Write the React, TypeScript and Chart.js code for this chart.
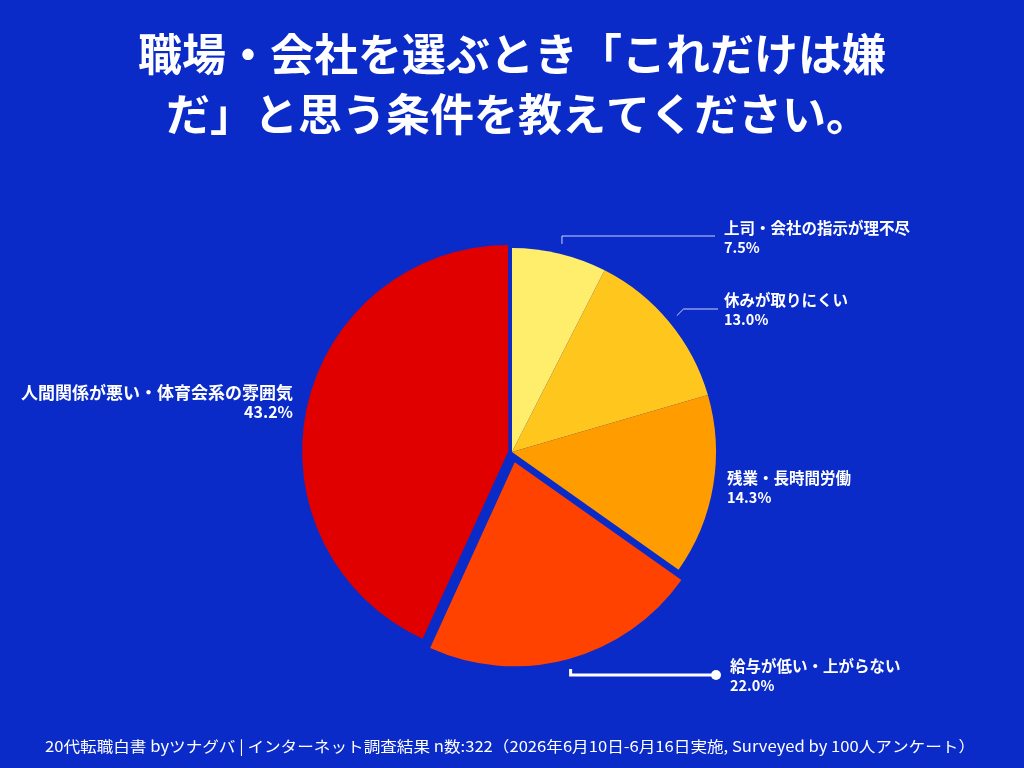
import React, { useEffect, useRef } from "react";
import { Chart, registerables } from "chart.js";

Chart.register(...registerables);

const TITLE_LINES = ["職場・会社を選ぶとき「これだけは嫌", "だ」と思う条件を教えてください。"];
const CATEGORIES = [
  "上司・会社の指示が理不尽",
  "休みが取りにくい",
  "残業・長時間労働",
  "給与が低い・上がらない",
  "人間関係が悪い・体育会系の雰囲気",
];
const VALUES = [7.5, 13.0, 14.3, 22.0, 43.2];
const COLORS = ["#FFEE6B", "#FFC71E", "#FF9C00", "#FF4200", "#E00000"];
const OFFSETS = [0, 0, 0, 42, 15];
const FOOTER = "20代転職白書 byツナグバ | インターネット調査結果 n数:322（2026年6月10日-6月16日実施, Surveyed by 100人アンケート）";
const BG = "#0B2BC9";

// label layout: [x, y of first line, align, leader style]
const LABEL_LAYOUT: { x: number; y: number; align: CanvasTextAlign; size: number; leader: null | { elbowY: number; endX: number; thick: boolean; diag: boolean } }[] = [
  { x: 724, y: 228, align: "left", size: 15.5, leader: { elbowY: 236, endX: 715, thick: false, diag: false } },
  { x: 724, y: 300, align: "left", size: 15.5, leader: { elbowY: 309, endX: 718, thick: false, diag: true } },
  { x: 727, y: 478, align: "left", size: 15.5, leader: null },
  { x: 730, y: 666, align: "left", size: 15.5, leader: { elbowY: 675, endX: 716, thick: true, diag: false } },
  { x: 293, y: 393, align: "right", size: 17, leader: null },
];

const FONT = "'Noto Sans CJK JP', 'Noto Sans', sans-serif";

const overlay = {
  id: "overlay",
  beforeDraw(chart: any) {
    const ctx = chart.ctx;
    ctx.save();
    ctx.fillStyle = BG;
    ctx.fillRect(0, 0, chart.width, chart.height);
    ctx.restore();
  },
  afterDraw(chart: any) {
    const ctx = chart.ctx as CanvasRenderingContext2D;
    ctx.save();
    // title
    ctx.fillStyle = "#FFFFFF";
    ctx.font = `bold 44px ${FONT}`;
    ctx.textAlign = "center";
    ctx.textBaseline = "middle";
    ctx.fillText(TITLE_LINES[0], 512, 54);
    ctx.fillText(TITLE_LINES[1], 518, 114);

    // labels & leader lines
    const meta = chart.getDatasetMeta(0);
    meta.data.forEach((arc: any, i: number) => {
      const lay = LABEL_LAYOUT[i];
      const p = arc.getProps(["x", "y", "startAngle", "endAngle", "outerRadius", "circumference"], true);
      const mid = (p.startAngle + p.endAngle) / 2;
      const off = (OFFSETS[i] || 0) / 4;
      const fix = 1 - Math.sin(Math.min(Math.PI, p.circumference || 0));
      const tr = off * (1 + fix);
      const cx = p.x + Math.cos(mid) * tr;
      const cy = p.y + Math.sin(mid) * tr;
      if (lay.leader) {
        const r = p.outerRadius + 10;
        const sx = cx + Math.cos(mid) * r;
        const sy = cy + Math.sin(mid) * r;
        ctx.strokeStyle = lay.leader.thick ? "#FFFFFF" : "rgba(255,255,255,0.8)";
        ctx.lineWidth = lay.leader.thick ? 3 : 1;
        ctx.beginPath();
        ctx.moveTo(sx, sy);
        if (lay.leader.diag) {
          const dy = lay.leader.elbowY - sy;
          ctx.lineTo(sx - dy, lay.leader.elbowY);
        } else {
          ctx.lineTo(sx, lay.leader.elbowY);
        }
        ctx.lineTo(lay.leader.endX, lay.leader.elbowY);
        ctx.stroke();
        if (lay.leader.thick) {
          ctx.fillStyle = "#FFFFFF";
          ctx.beginPath();
          ctx.arc(lay.leader.endX, lay.leader.elbowY, 5, 0, Math.PI * 2);
          ctx.fill();
        }
      }
      ctx.fillStyle = "#FFFFFF";
      ctx.textAlign = lay.align;
      ctx.textBaseline = "middle";
      ctx.font = `bold ${lay.size}px ${FONT}`;
      ctx.fillText(CATEGORIES[i], lay.x, lay.y);
      ctx.font = `bold ${lay.size - 1}px ${FONT}`;
      ctx.fillText(VALUES[i].toFixed(1) + "%", lay.x, lay.y + 19);
    });

    // footer
    ctx.font = `15px ${FONT}`;
    ctx.textAlign = "left";
    ctx.textBaseline = "middle";
    const w = ctx.measureText(FOOTER).width;
    const target = 930;
    ctx.translate(45, 746);
    ctx.scale(target / w, 1);
    ctx.fillText(FOOTER, 0, 0);
    ctx.restore();
  },
};

export default function App() {
  const ref = useRef<HTMLCanvasElement>(null);
  useEffect(() => {
    if (!ref.current) return;
    const chart = new Chart(ref.current, {
      type: "pie",
      data: {
        labels: CATEGORIES,
        datasets: [
          {
            data: VALUES,
            backgroundColor: COLORS,
            borderWidth: 0,
            offset: OFFSETS,
          },
        ],
      },
      options: {
        responsive: false,
        animation: false,
        radius: 204,
        layout: { padding: { left: 250, right: 250, top: 190, bottom: 54 } },
        plugins: {
          legend: { display: false },
          tooltip: { enabled: false },
          title: { display: false },
        },
      } as any,
      plugins: [overlay],
    });
    return () => chart.destroy();
  }, []);
  return (
    <div style={{ position: "absolute", left: 0, top: 0, width: 1024, height: 768, background: BG }}>
      <canvas ref={ref} width={1024} height={768} style={{ display: "block", width: 1024, height: 768 }} />
    </div>
  );
}
